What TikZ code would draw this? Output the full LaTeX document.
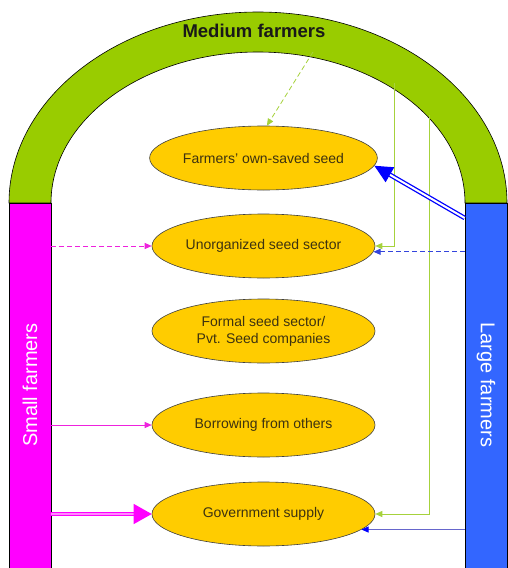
\documentclass[tikz,border=0pt]{standalone}
\usepackage{fontspec}
\setmainfont{Liberation Sans}
\usetikzlibrary{arrows.meta,shapes.geometric}
\definecolor{archgreen}{HTML}{99CC00}
\definecolor{smag}{HTML}{FF00FF}
\definecolor{lblue}{HTML}{3366FF}
\definecolor{seedfill}{HTML}{FFCC00}
\definecolor{thingreen}{HTML}{A6D23C}
\definecolor{thinmag}{HTML}{EE22DD}
\definecolor{dblue}{HTML}{3344DD}
\definecolor{sblue}{HTML}{6666CC}
\definecolor{seedtext}{HTML}{3D3210}
\begin{document}
\begin{tikzpicture}[x=1pt,y=-1pt,
  seed/.style={ellipse, draw=black!75, line width=0.6pt, fill=seedfill, minimum width=223pt, minimum height=64pt, inner sep=0pt, font=\fontsize{14}{17}\selectfont, text=seedtext, align=center},
  bar/.style={draw=black, line width=0.6pt, minimum width=42pt, minimum height=369pt, inner sep=0pt},
  smalltip/.style={-{Triangle[length=7pt,width=6pt]}},
  longdash/.style={dash pattern=on 5pt off 3pt},
  sidetext/.style={white, font=\fontsize{20}{24}\selectfont}]
\useasboundingbox (0,0) rectangle (508,568);
\fill[white] (0,0) rectangle (508,568);
% arch
\draw[fill=archgreen, draw=black, line width=0.6pt] (9,203) arc[start angle=180, end angle=0, x radius=249pt, y radius=191pt] -- (465,203) arc[start angle=0, end angle=180, x radius=207pt, y radius=151pt] -- cycle;
\node[font=\bfseries\fontsize{18.5}{22}\selectfont, text=black!90] (med) at (254,31) {Medium farmers};
% bars
\node[bar, fill=smag] (sbar) at (30,387.5) {};
\node[bar, fill=lblue] (lbar) at (486,387.5) {};
\node[sidetext, rotate=90] (stext) at (30,385) {Small farmers};
\node[sidetext, rotate=-90] (ltext) at (486,385) {Large farmers};
% ellipses
\node[seed] (e1) at (263.5,158) {Farmers' own-saved seed};
\node[seed] (e2) at (263.5,246) {Unorganized seed sector};
\node[seed] (e3) at (263.5,331) {Formal seed sector/\\Pvt. Seed companies};
\node[seed] (e4) at (263.5,425) {Borrowing from others};
\node[seed] (e5) at (263.5,514) {Government supply};
% medium farmers connectors
\coordinate (m0) at (313,52);
\coordinate (g1) at (394,83);
\coordinate (g2) at (429,115);
\draw[thingreen, longdash, line width=0.8pt, smalltip] (m0) -- (e1.84);
\draw[thingreen, line width=0.8pt, smalltip] (g1) |- (e2.east);
\draw[thingreen, line width=0.8pt, smalltip] (g2) |- (e5.east);
% small farmers connectors
\draw[thinmag, longdash, line width=0.9pt, smalltip] (sbar.east |- e2.west) -- (e2.west);
\draw[thinmag, line width=0.9pt, smalltip] (sbar.east |- e4.west) -- (e4.west);
\draw[smag, double=smag!45, double distance=2pt, line width=1.1pt, -{Triangle[length=18pt,width=20pt]}] (sbar.east |- e5.west) -- (e5.west);
% large farmers connectors
\draw[blue, double=white, double distance=2pt, line width=1.3pt, -{Triangle[length=18pt,width=17pt]}] (lbar.west |- 0,218) -- (e1.-4);
\draw[dblue, longdash, line width=0.9pt, smalltip] (lbar.west |- e2.-3) -- (e2.-3);
\draw[sblue, line width=0.9pt, -{Triangle[length=7pt,width=6pt,color=blue]}] (lbar.west |- e5.-9.4) -- (e5.-9.4);
\end{tikzpicture}
\end{document}
